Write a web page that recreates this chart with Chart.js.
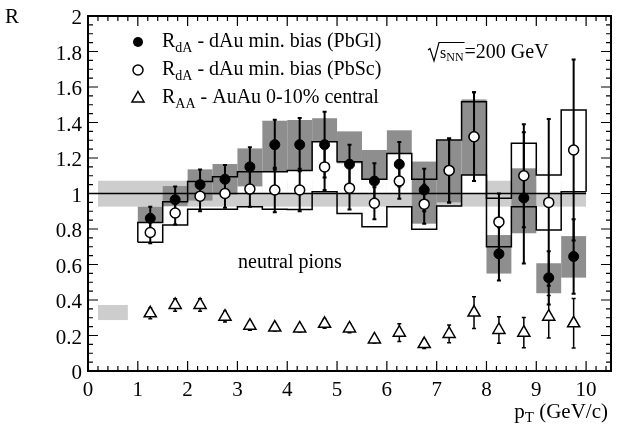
<!DOCTYPE html>
<html><head><meta charset="utf-8">
<script src="https://cdn.jsdelivr.net/npm/chart.js@4.4.1/dist/chart.umd.min.js"></script>
<style>html,body{margin:0;padding:0;background:#fff;}canvas{display:block;}</style>
</head><body>
<canvas id="c" width="620" height="429"></canvas>
<script>
// ---------------- data ----------------
const ptBins = [1.25,1.75,2.25,2.75,3.25,3.75,4.25,4.75,5.25,5.75,6.25,6.75,7.25,7.75,8.25,8.75,9.25,9.75];
const binWidth = 0.5;

const rdA_PbGl        = [0.86,0.965,1.05,1.08,1.15,1.275,1.275,1.275,1.165,1.07,1.165,1.02,1.13,1.32,0.66,0.975,0.525,0.645];
const rdA_PbGl_err    = [0.065,0.075,0.085,0.08,0.11,0.14,0.15,0.185,0.11,0.10,0.125,0.12,0.18,0.25,0.15,0.37,0.15,0.21];
const rdA_PbGl_sysLow = [0.837,0.93,0.96,0.994,1.04,1.123,1.13,1.29,1.17,1.08,1.226,0.83,0.95,1.104,0.549,0.776,0.438,0.526];
const rdA_PbGl_sysHigh= [0.926,1.042,1.136,1.166,1.254,1.41,1.414,1.424,1.35,1.245,1.356,1.18,1.30,1.53,0.766,1.142,0.607,0.76];

const rdA_PbSc        = [0.78,0.89,0.985,1.0,1.025,1.02,1.02,1.15,1.03,0.945,1.07,0.94,1.13,1.32,0.84,1.10,0.95,1.245];
const rdA_PbSc_err    = [0.06,0.065,0.085,0.08,0.10,0.125,0.12,0.13,0.12,0.09,0.10,0.11,0.18,0.25,0.16,0.29,0.47,0.51];
const rdA_PbSc_sysLow = [0.725,0.823,0.911,0.911,0.926,0.911,0.91,1.01,0.888,0.813,0.926,0.798,0.93,1.104,0.70,0.926,0.794,1.01];
const rdA_PbSc_sysHigh= [0.837,0.954,1.067,1.095,1.123,1.123,1.13,1.292,1.179,1.08,1.226,1.08,1.301,1.517,0.973,1.283,1.104,1.47];

const raa_AuAu        = [0.325,0.372,0.372,0.306,0.255,0.245,0.24,0.266,0.24,0.178,0.216,0.152,0.209,0.329,0.231,0.216,0.306,0.269];
const raa_AuAu_err    = [0.03,0.035,0.035,0.03,0.025,0.02,0.02,0.025,0.025,0.02,0.05,0.025,0.05,0.09,0.075,0.085,0.12,0.14];

// normalisation uncertainties
const dAuNormX = [0.2, 10.0];  const dAuNormY = [0.926, 1.072];
const AuAuNormX = [0.2, 0.8];  const AuAuNormY = [0.287, 0.372];
const refLineX = [0, 10]; const refLineY = 1;

const xTickValues = [0,1,2,3,4,5,6,7,8,9,10];
const xTickLabels = ['0','1','2','3','4','5','6','7','8','9','10'];
const yTickValues = [0,0.2,0.4,0.6,0.8,1,1.2,1.4,1.6,1.8,2];
const yTickLabels = ['0','0.2','0.4','0.6','0.8','1','1.2','1.4','1.6','1.8','2'];
const xMinorStep = 0.2, yMinorStep = 0.05;

const legendLabels = [['R','dA',' - dAu min. bias (PbGl)'],['R','dA',' - dAu min. bias (PbSc)'],['R','AA',' - AuAu 0-10% central']];

// ---------------- styles ----------------
const SERIF = "'Liberation Serif','Times New Roman',serif";
const LIGHT = '#cdcdcd', DARK = '#8e8e8e';

function pts(ys){ return ptBins.map((x,i)=>({x:x, y:ys[i]})); }

const drawPlugin = {
  id:'phenix',
  beforeDatasetsDraw(chart){
    const ctx = chart.ctx, xs = chart.scales.x, ys = chart.scales.y;
    const X = v=>xs.getPixelForValue(v), Y = v=>ys.getPixelForValue(v);
    const box = (x0,x1,y0,y1)=>ctx.fillRect(X(x0),Y(y1),X(x1)-X(x0),Y(y0)-Y(y1));
    const n = ptBins.length, hw = binWidth/2;
    ctx.save();
    ctx.fillStyle = LIGHT;
    box(dAuNormX[0],dAuNormX[1],dAuNormY[0],dAuNormY[1]);
    box(AuAuNormX[0],AuAuNormX[1],AuAuNormY[0],AuAuNormY[1]);
    // white fill of PbSc upper envelope down to the reference line
    ctx.fillStyle = '#fff';
    ptBins.forEach((c,i)=>{ if(rdA_PbSc_sysHigh[i]>refLineY) box(c-hw,c+hw,refLineY,rdA_PbSc_sysHigh[i]); });
    // PbGl systematic boxes
    ctx.fillStyle = DARK;
    ptBins.forEach((c,i)=>box(c-hw,c+hw,rdA_PbGl_sysLow[i],rdA_PbGl_sysHigh[i]));
    // PbSc systematic envelopes as step lines
    ctx.strokeStyle='#000'; ctx.lineWidth=1.5; ctx.lineJoin='miter';
    const step = arr=>{
      ctx.beginPath();
      ctx.moveTo(X(ptBins[0]-hw),Y(rdA_PbSc_sysLow[0]));
      ctx.lineTo(X(ptBins[0]-hw),Y(arr[0]));
      for(let i=0;i<n;i++){
        ctx.lineTo(X(ptBins[i]+hw),Y(arr[i]));
        if(i<n-1) ctx.lineTo(X(ptBins[i]+hw),Y(arr[i+1]));
      }
      ctx.lineTo(X(ptBins[n-1]+hw),Y(rdA_PbSc_sysLow[n-1]));
      ctx.stroke();
    };
    step(rdA_PbSc_sysHigh); step(rdA_PbSc_sysLow);
    // reference line
    ctx.lineWidth=1.5;
    ctx.beginPath(); ctx.moveTo(X(refLineX[0]),Y(refLineY)); ctx.lineTo(X(refLineX[1]),Y(refLineY)); ctx.stroke();
    // error bars
    const err=(xv,yv,e,lw)=>{
      const px=X(xv), y0=Y(yv-e), y1=Y(yv+e);
      ctx.lineWidth=lw; ctx.beginPath(); ctx.moveTo(px,y0); ctx.lineTo(px,y1);
      ctx.moveTo(px-2,y0); ctx.lineTo(px+2,y0); ctx.moveTo(px-2,y1); ctx.lineTo(px+2,y1); ctx.stroke();
    };
    ptBins.forEach((c,i)=>{
      err(c,rdA_PbGl[i],rdA_PbGl_err[i],2);
      err(c,rdA_PbSc[i],rdA_PbSc_err[i],2);
      err(c,raa_AuAu[i],raa_AuAu_err[i],1.5);
    });
    ctx.restore();
  },
  afterDraw(chart){
    const ctx = chart.ctx, xs = chart.scales.x, ys = chart.scales.y, a = chart.chartArea;
    const X = v=>xs.getPixelForValue(v), Y = v=>ys.getPixelForValue(v);
    ctx.save();
    ctx.strokeStyle='#000'; ctx.fillStyle='#000';
    // frame
    ctx.lineWidth=2;
    ctx.strokeRect(a.left,a.top,a.right-a.left,a.bottom-a.top);
    // ticks
    ctx.lineWidth=1.2;
    ctx.beginPath();
    for(let v=0; v<=xs.max+1e-9; v+=xMinorStep){
      const major = Math.abs(v-Math.round(v))<1e-6;
      const L = major?10:5, px=X(v);
      ctx.moveTo(px,a.bottom); ctx.lineTo(px,a.bottom-L);
      ctx.moveTo(px,a.top); ctx.lineTo(px,a.top+L);
    }
    for(let v=0; v<=ys.max+1e-9; v+=yMinorStep){
      const major = Math.abs(v/0.2-Math.round(v/0.2))<1e-6;
      const L = major?10:5, py=Y(v);
      ctx.moveTo(a.left,py); ctx.lineTo(a.left+L,py);
      ctx.moveTo(a.right,py); ctx.lineTo(a.right-L,py);
    }
    ctx.stroke();
    // tick labels
    ctx.font = '21px '+SERIF; ctx.textBaseline='alphabetic';
    ctx.textAlign='center';
    xTickValues.forEach((v,i)=>ctx.fillText(xTickLabels[i],X(v),a.bottom+25));
    ctx.textAlign='right';
    yTickValues.forEach((v,i)=>ctx.fillText(yTickLabels[i],a.left-6,Y(v)+8));
    // axis titles
    ctx.textAlign='left';
    ctx.font='21px '+SERIF;
    const w1=ctx.measureText('p').width, w3=ctx.measureText(' (GeV/c)').width;
    ctx.font='15px '+SERIF; const w2=ctx.measureText('T').width;
    let xx = a.right-3-(w1+w2+w3), by=418;
    ctx.font='21px '+SERIF; ctx.fillText('p',xx,by); xx+=w1;
    ctx.font='15px '+SERIF; ctx.fillText('T',xx,by+4); xx+=w2;
    ctx.font='21px '+SERIF; ctx.fillText(' (GeV/c)',xx,by);
    // y title R (upright, top-left)
    ctx.font='21px '+SERIF; ctx.fillText('R',5,23);
    // legend
    const lx=138, rows=[42,70,97], tx=162, tb=[47,75,103];
    ctx.lineWidth=1.5;
    ctx.beginPath(); ctx.arc(lx,rows[0],5,0,Math.PI*2); ctx.fill();
    ctx.fillStyle='#fff'; ctx.beginPath(); ctx.arc(lx,rows[1],5,0,Math.PI*2); ctx.fill(); ctx.stroke();
    ctx.beginPath(); const r=7, cy=rows[2]+1.5;
    ctx.moveTo(lx,cy-r); ctx.lineTo(lx+0.866*r,cy+0.5*r); ctx.lineTo(lx-0.866*r,cy+0.5*r); ctx.closePath(); ctx.fill(); ctx.stroke();
    ctx.fillStyle='#000';
    legendLabels.forEach((lab,i)=>{
      let x=tx;
      ctx.font='20px '+SERIF; ctx.fillText(lab[0],x,tb[i]); x+=ctx.measureText(lab[0]).width;
      ctx.font='14px '+SERIF; ctx.fillText(lab[1],x,tb[i]+5); x+=ctx.measureText(lab[1]).width;
      ctx.font='20px '+SERIF; ctx.fillText(lab[2],x,tb[i]);
    });
    // sqrt(s_NN)=200 GeV, drawn radical
    let sx=428, sb=58;
    ctx.lineWidth=1.2;
    ctx.beginPath();
    ctx.moveTo(sx,50); ctx.lineTo(sx+2,48.5); ctx.lineTo(sx+6,61); ctx.lineTo(sx+11,42.5);
    sx+=12;
    ctx.font='16px '+SERIF; const wS=ctx.measureText('s').width;
    ctx.font='12px '+SERIF; const wN=ctx.measureText('NN').width;
    ctx.lineTo(sx+wS+wN+1,42.5); ctx.stroke();
    ctx.font='16px '+SERIF; ctx.fillText('s',sx,sb); sx+=wS;
    ctx.font='12px '+SERIF; ctx.fillText('NN',sx,sb+3); sx+=wN+1;
    ctx.font='20px '+SERIF; ctx.fillText('=200 GeV',sx,sb);
    // neutral pions
    ctx.font='20px '+SERIF; ctx.fillText('neutral pions',238,268);
    ctx.restore();
  }
};

new Chart(document.getElementById('c'),{
  type:'scatter',
  data:{datasets:[
    {label:'PbSc', data:pts(rdA_PbSc), order:0, pointStyle:'circle', pointRadius:5, pointBackgroundColor:'#fff', pointBorderColor:'#000', pointBorderWidth:1.5},
    {label:'PbGl', data:pts(rdA_PbGl), order:1, pointStyle:'circle', pointRadius:5, pointBackgroundColor:'#000', pointBorderColor:'#000', pointBorderWidth:1},
    {label:'AuAu', data:pts(raa_AuAu), order:2, pointStyle:'triangle', pointRadius:7, pointBackgroundColor:'#fff', pointBorderColor:'#000', pointBorderWidth:1.5}
  ]},
  options:{
    responsive:false, animation:false, devicePixelRatio:1,
    layout:{padding:{left:88,right:9,top:16,bottom:58}},
    plugins:{legend:{display:false},tooltip:{enabled:false}},
    scales:{
      x:{type:'linear',min:0,max:10.5,display:false},
      y:{type:'linear',min:0,max:2,display:false}
    }
  },
  plugins:[drawPlugin]
});
</script>
</body></html>
